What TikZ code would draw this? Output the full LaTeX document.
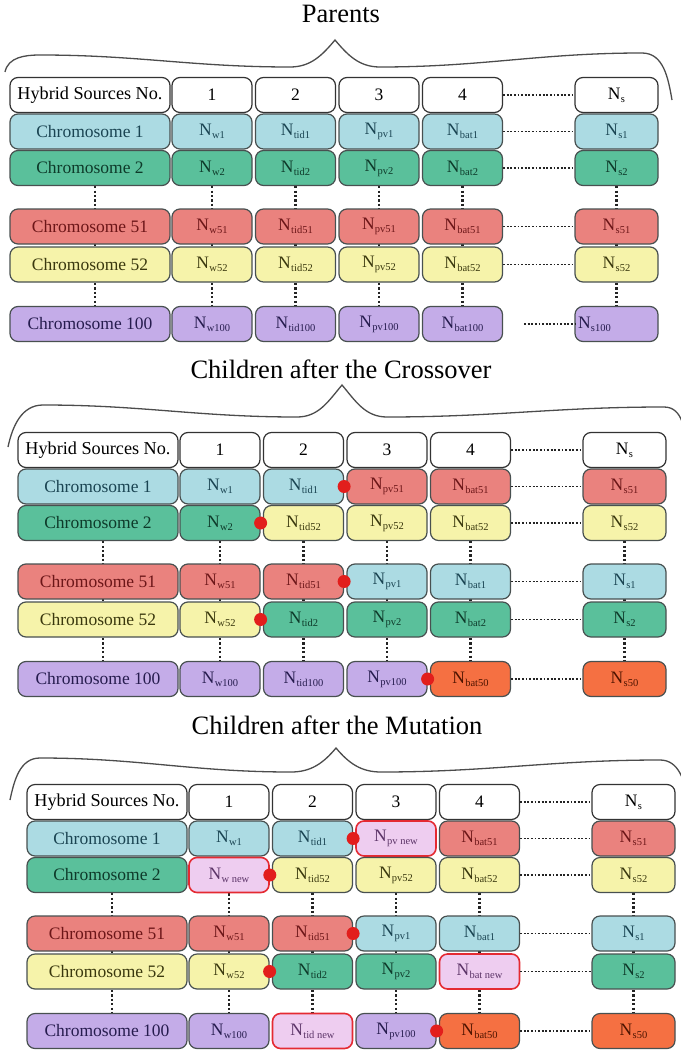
\documentclass[tikz,border=0pt]{standalone}
\usepackage{fontspec}
\setmainfont{Liberation Serif}
\usetikzlibrary{backgrounds}

\definecolor{fillBlue}{RGB}{172,219,227}
\definecolor{textBlue}{RGB}{26,68,82}
\definecolor{fillGreen}{RGB}{90,192,155}
\definecolor{textGreen}{RGB}{14,58,42}
\definecolor{fillRed}{RGB}{234,130,126}
\definecolor{textRed}{RGB}{108,22,24}
\definecolor{fillYellow}{RGB}{246,243,170}
\definecolor{textYellow}{RGB}{58,56,14}
\definecolor{fillPurple}{RGB}{196,172,232}
\definecolor{textPurple}{RGB}{38,28,78}
\definecolor{fillOrange}{RGB}{245,112,66}
\definecolor{textOrange}{RGB}{78,20,0}
\definecolor{fillPink}{RGB}{238,205,240}
\definecolor{textPink}{RGB}{92,52,104}
\definecolor{edgePink}{RGB}{228,42,50}
\definecolor{edgeGray}{RGB}{72,80,80}
\definecolor{dotGray}{RGB}{35,35,35}
\definecolor{cutRed}{RGB}{226,30,28}

\newcommand\gene[1]{N\kern0.3pt\raisebox{-3pt}{\fontsize{10.5}{12}\selectfont #1}}
\newcommand\hdrtext{\fontsize{18.2}{20}\selectfont}

\tikzset{
  box/.style={draw=edgeGray, line width=1.2pt, rounded corners=8pt, minimum height=35pt,
    minimum width=80pt, inner sep=0pt, font=\fontsize{17.5}{20}\selectfont},
  lab/.style={box, minimum width=160pt},
  hdr/.style={fill=white, draw=black!80, text=black},
  chr1/.style={fill=fillBlue, text=textBlue},
  chr2/.style={fill=fillGreen, text=textGreen},
  chr51/.style={fill=fillRed, text=textRed},
  chr52/.style={fill=fillYellow, text=textYellow},
  chr100/.style={fill=fillPurple, text=textPurple},
  chr100l/.style={chr100, text width=77pt, align=left},
  chr50/.style={fill=fillOrange, text=textOrange},
  mut/.style={fill=fillPink, draw=edgePink, line width=1.6pt, text=textPink},
  dotrow/.style={draw=dotGray, line width=1.8pt, dash pattern=on 1.8pt off 1.8pt},
  dotcol/.style={draw=dotGray, line width=2.2pt, dash pattern=on 2.2pt off 2.2pt},
  cutmark/.style={circle, fill=cutRed, inner sep=0pt, minimum size=13pt},
  bracel/.style={draw=black!70, line width=1.3pt},
  ttl/.style={font=\fontsize{26.5}{30}\selectfont}
}

% panel, row, label, label style, cells
\newcommand\chrrow[5]{%
  \pgfmathsetmacro\ry{\hc+{0,36.5,73,131.5,169.5,229}[#2]}
  \node[lab,#4] (#1r#2c0) at ({\px+90},\ry) {#3};
  \foreach \txt/\sty [count=\i] in {#5}{
    \pgfmathsetmacro\cx{\px+{212,295.5,379,462.5,616.5}[\i-1]}
    \node[box,\sty,minimum width={\i==5 ? 83 : 80}] (#1r#2c\i) at (\cx,\ry) {\txt};
  }
}

\begin{document}
\begin{tikzpicture}[x=1pt,y=-1pt]
\useasboundingbox (0,0) rectangle (680,1054);

\def\px{0}\def\hc{95}
\node[ttl] (t1) at (341,14) {Parents};
\draw[bracel] (5,72) to[out=78,in=180] (40,55) to[out=0,in=180] (290,67) to[out=0,in=-130] (335,40)
  to[out=-50,in=180] (380,67) to[out=0,in=180] (642,53) to[out=0,in=100] (672,100);
\chrrow{p1}{0}{\hdrtext Hybrid Sources No.}{hdr}{1/hdr,2/hdr,3/hdr,4/hdr,\gene{s}/hdr}
\chrrow{p1}{1}{Chromosome 1}{chr1}{\gene{w1}/chr1,\gene{tid1}/chr1,\gene{pv1}/chr1,\gene{bat1}/chr1,\gene{s1}/chr1}
\chrrow{p1}{2}{Chromosome 2}{chr2}{\gene{w2}/chr2,\gene{tid2}/chr2,\gene{pv2}/chr2,\gene{bat2}/chr2,\gene{s2}/chr2}
\chrrow{p1}{3}{Chromosome 51}{chr51}{\gene{w51}/chr51,\gene{tid51}/chr51,\gene{pv51}/chr51,\gene{bat51}/chr51,\gene{s51}/chr51}
\chrrow{p1}{4}{Chromosome 52}{chr52}{\gene{w52}/chr52,\gene{tid52}/chr52,\gene{pv52}/chr52,\gene{bat52}/chr52,\gene{s52}/chr52}
\chrrow{p1}{5}{Chromosome 100}{chr100}{\gene{w100}/chr100,\gene{tid100}/chr100,\gene{pv100}/chr100,\gene{bat100}/chr100,\gene{s100}/chr100l}
\foreach \rw in {0,...,4} \draw[dotrow] (p1r\rw c4) -- (p1r\rw c5);
\coordinate (p1gap) at ([xshift=21pt]p1r5c4.east);
\draw[dotrow] (p1gap) -- ([xshift=3pt]p1r5c5.west);
\begin{scope}[on background layer]
\foreach \cl in {1,...,5} \draw[dotcol] (p1r2c\cl) -- (p1r5c\cl);
\draw[dotcol] ([xshift=5pt]p1r2c0.south) -- ([xshift=5pt]p1r5c0.north);
\end{scope}

\def\px{8}\def\hc{450}
\node[ttl] (t2) at (341,369) {Children after the Crossover};
\draw[bracel] (8,447) to[out=78,in=180] (43,405) to[out=0,in=180] (297,417) to[out=0,in=-130] (342,385)
  to[out=-50,in=180] (387,417) to[out=0,in=180] (664,407) to[out=0,in=100] (688,450);
\chrrow{p2}{0}{\hdrtext Hybrid Sources No.}{hdr}{1/hdr,2/hdr,3/hdr,4/hdr,\gene{s}/hdr}
\chrrow{p2}{1}{Chromosome 1}{chr1}{\gene{w1}/chr1,\gene{tid1}/chr1,\gene{pv51}/chr51,\gene{bat51}/chr51,\gene{s51}/chr51}
\chrrow{p2}{2}{Chromosome 2}{chr2}{\gene{w2}/chr2,\gene{tid52}/chr52,\gene{pv52}/chr52,\gene{bat52}/chr52,\gene{s52}/chr52}
\chrrow{p2}{3}{Chromosome 51}{chr51}{\gene{w51}/chr51,\gene{tid51}/chr51,\gene{pv1}/chr1,\gene{bat1}/chr1,\gene{s1}/chr1}
\chrrow{p2}{4}{Chromosome 52}{chr52}{\gene{w52}/chr52,\gene{tid2}/chr2,\gene{pv2}/chr2,\gene{bat2}/chr2,\gene{s2}/chr2}
\chrrow{p2}{5}{Chromosome 100}{chr100}{\gene{w100}/chr100,\gene{tid100}/chr100,\gene{pv100}/chr100,\gene{bat50}/chr50,\gene{s50}/chr50}
\foreach \rw in {0,...,5} \draw[dotrow] (p2r\rw c4) -- (p2r\rw c5);
\begin{scope}[on background layer]
\foreach \cl in {1,...,5} \draw[dotcol] (p2r2c\cl) -- (p2r5c\cl);
\draw[dotcol] ([xshift=5pt]p2r2c0.south) -- ([xshift=5pt]p2r5c0.north);
\end{scope}
\foreach \rw/\cl in {1/2,2/1,3/2,4/1,5/3} \node[cutmark] (p2k\rw) at (p2r\rw c\cl.east) {};

\def\px{17}\def\hc{802}
\node[ttl] (t3) at (337,725) {Children after the Mutation};
\draw[bracel] (10,800) to[out=78,in=180] (40,758) to[out=0,in=180] (291,772) to[out=0,in=-130] (336,748)
  to[out=-50,in=180] (381,772) to[out=0,in=180] (660,760) to[out=0,in=100] (688,800);
\chrrow{p3}{0}{\hdrtext Hybrid Sources No.}{hdr}{1/hdr,2/hdr,3/hdr,4/hdr,\gene{s}/hdr}
\chrrow{p3}{1}{Chromosome 1}{chr1}{\gene{w1}/chr1,\gene{tid1}/chr1,\gene{pv new}/mut,\gene{bat51}/chr51,\gene{s51}/chr51}
\chrrow{p3}{2}{Chromosome 2}{chr2}{\gene{w new}/mut,\gene{tid52}/chr52,\gene{pv52}/chr52,\gene{bat52}/chr52,\gene{s52}/chr52}
\chrrow{p3}{3}{Chromosome 51}{chr51}{\gene{w51}/chr51,\gene{tid51}/chr51,\gene{pv1}/chr1,\gene{bat1}/chr1,\gene{s1}/chr1}
\chrrow{p3}{4}{Chromosome 52}{chr52}{\gene{w52}/chr52,\gene{tid2}/chr2,\gene{pv2}/chr2,\gene{bat new}/mut,\gene{s2}/chr2}
\chrrow{p3}{5}{Chromosome 100}{chr100}{\gene{w100}/chr100,\gene{tid new}/mut,\gene{pv100}/chr100,\gene{bat50}/chr50,\gene{s50}/chr50}
\foreach \rw in {0,...,5} \draw[dotrow] (p3r\rw c4) -- (p3r\rw c5);
\begin{scope}[on background layer]
\foreach \cl in {1,...,5} \draw[dotcol] (p3r2c\cl) -- (p3r5c\cl);
\draw[dotcol] ([xshift=5pt]p3r2c0.south) -- ([xshift=5pt]p3r5c0.north);
\end{scope}
\foreach \rw/\cl in {1/2,2/1,3/2,4/1,5/3} \node[cutmark] (p3k\rw) at (p3r\rw c\cl.east) {};
\end{tikzpicture}
\end{document}
